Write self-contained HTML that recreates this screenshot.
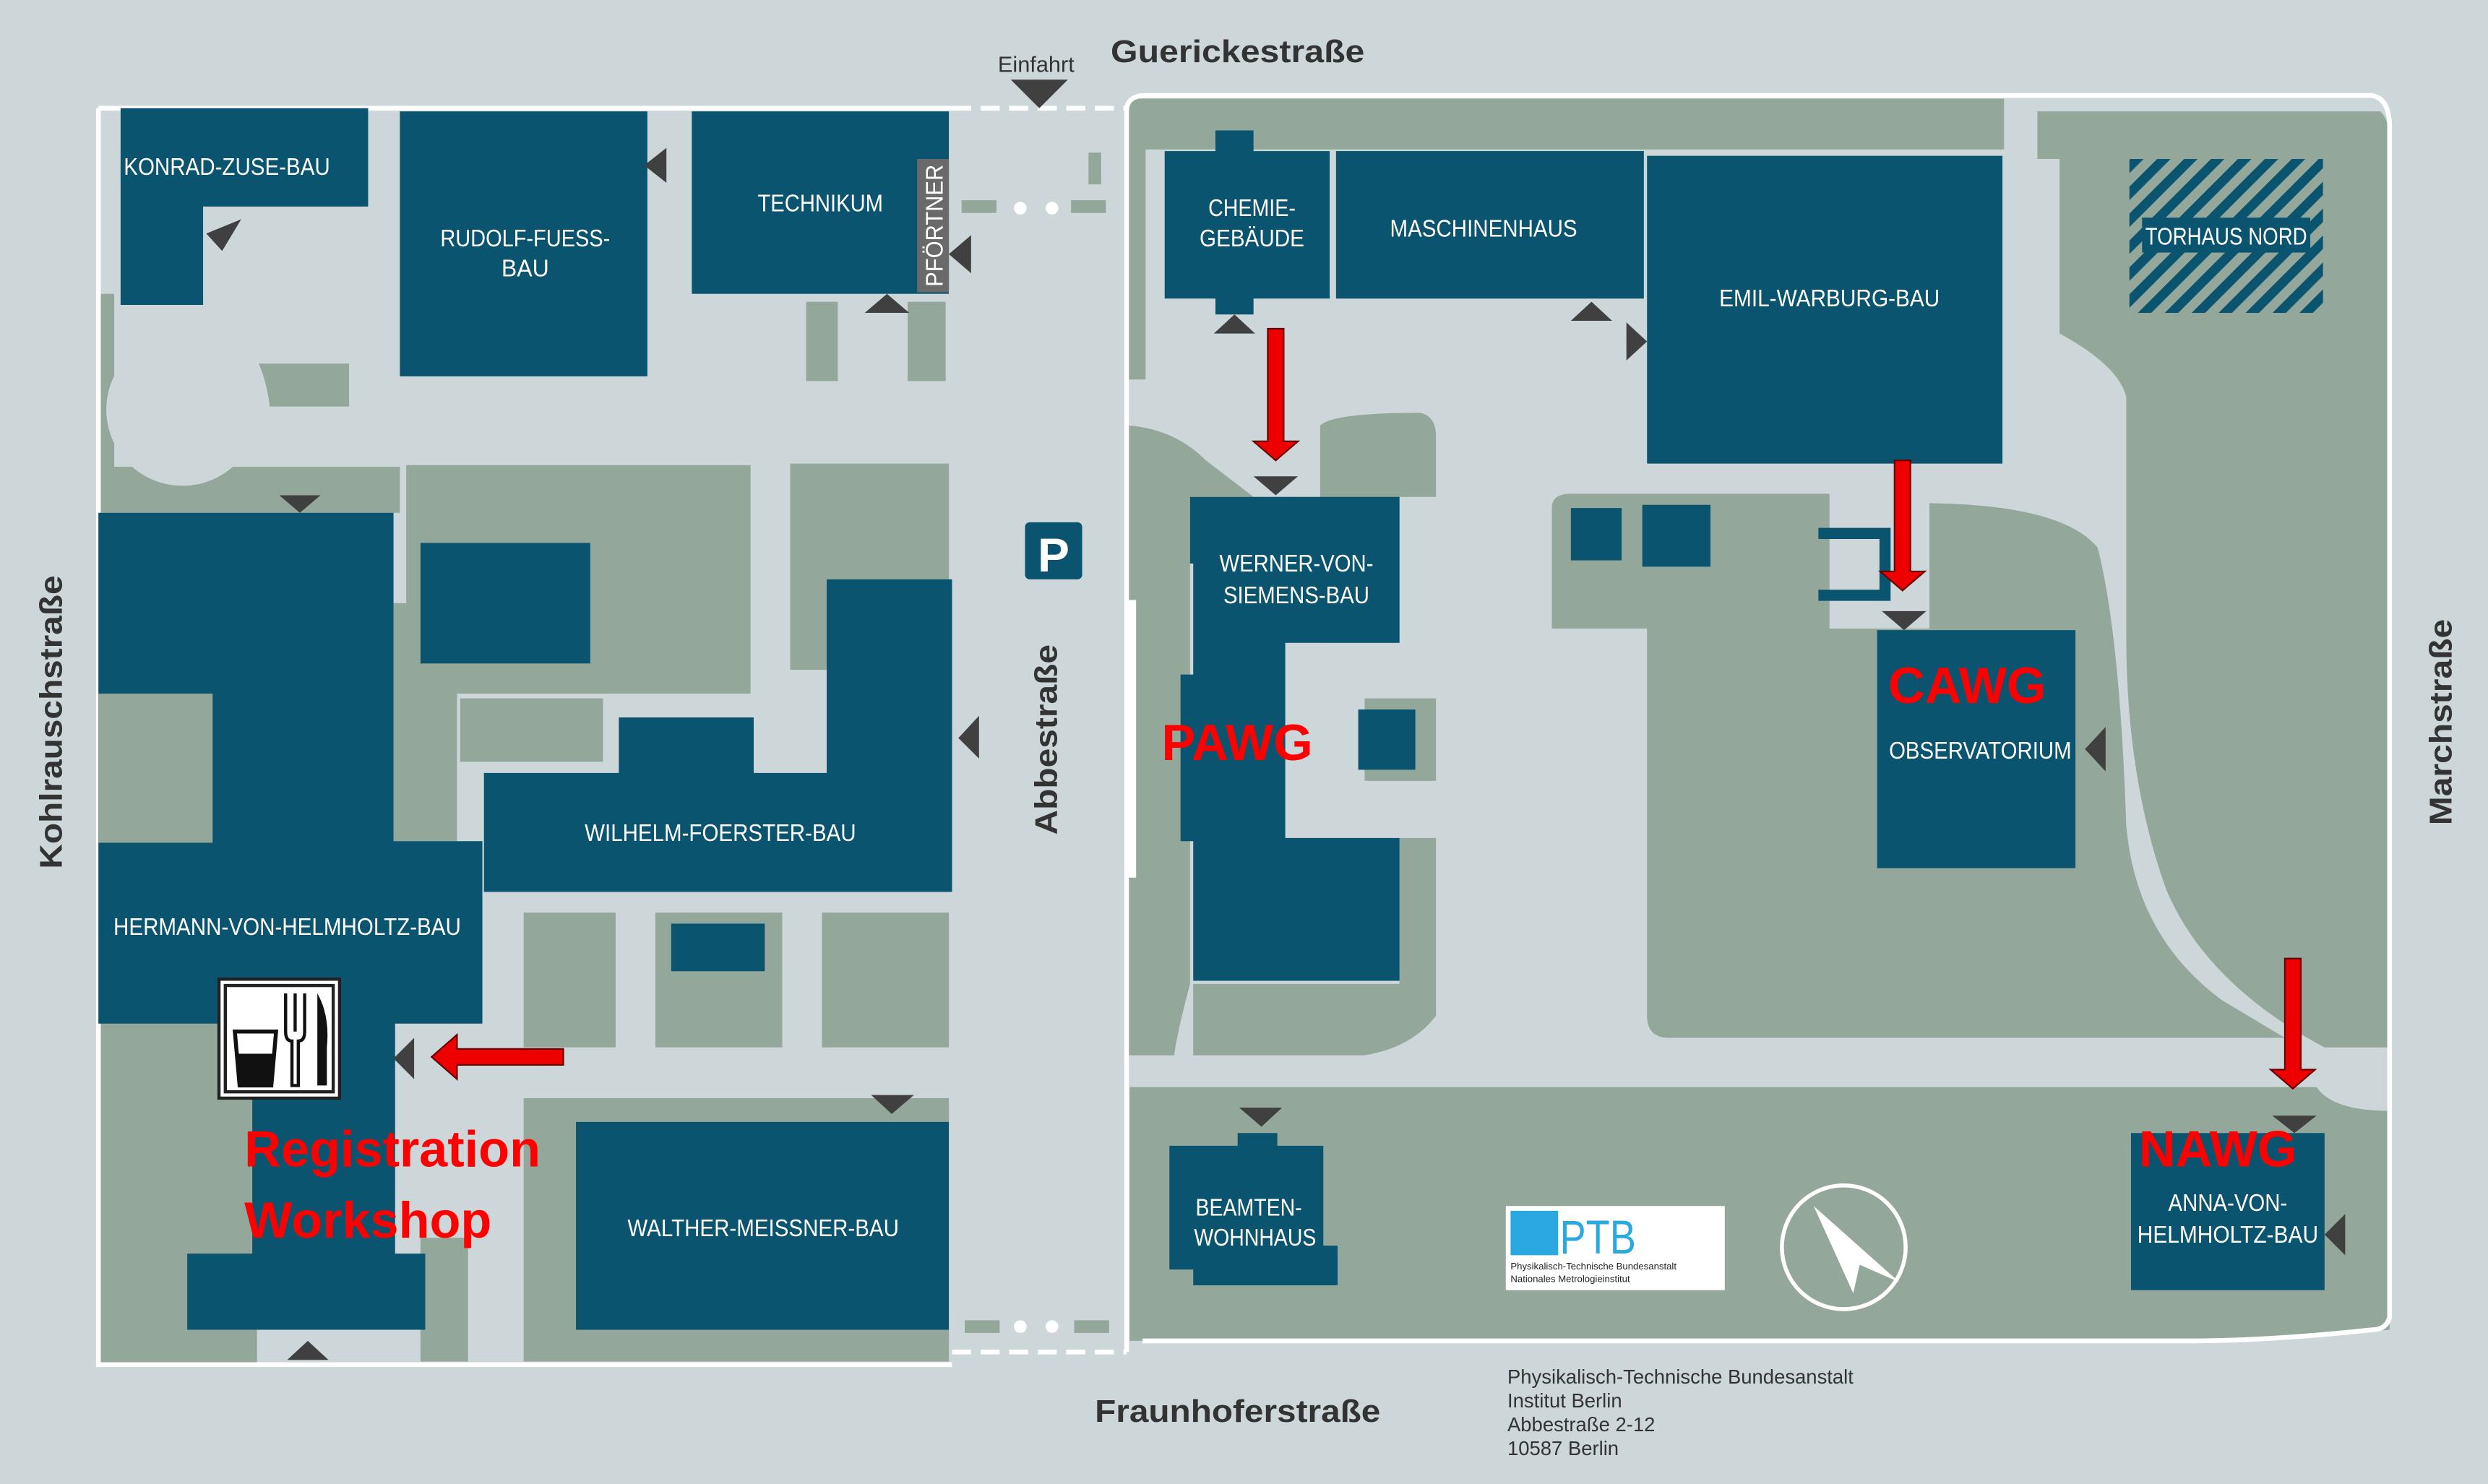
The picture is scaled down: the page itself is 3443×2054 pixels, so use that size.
<!DOCTYPE html>
<html><head><meta charset="utf-8"><style>
html,body{margin:0;padding:0;background:#cdd6d9}
svg{display:block}
.b{fill:#0b5470}.g{fill:#93a89a}.t{fill:#404040}
.l{fill:#fff;font-family:"Liberation Sans",sans-serif;font-size:15px;text-anchor:middle}
.s{fill:#333;font-family:"Liberation Sans",sans-serif;font-weight:bold;font-size:20px;text-anchor:middle}
.r{fill:#f00;font-family:"Liberation Sans",sans-serif;font-weight:bold;font-size:32px}
</style></head><body>
<svg width="3443" height="2054" viewBox="0 0 1568 935" xmlns="http://www.w3.org/2000/svg">
<rect width="1568" height="935" fill="#cdd6d9"/>
<!-- green areas left -->
<path class="g" d="M62,185 H72 V295 H62 Z"/>
<path class="g" d="M62,294 H252 V323 H62 Z"/>
<circle cx="115" cy="258" r="48" fill="#cdd6d9"/>
<path class="g" d="M163,229 H220 V256 H170 Q168,240 163,229 Z"/>
<rect class="g" x="508" y="190" width="20" height="50"/>
<rect class="g" x="572" y="190" width="24" height="50"/>
<rect class="g" x="606" y="126" width="22" height="8"/>
<rect class="g" x="675" y="126" width="22" height="8"/>
<rect class="g" x="686" y="96" width="8" height="20"/>
<rect class="g" x="256" y="293" width="217" height="144"/>
<rect class="g" x="498" y="292" width="100" height="130"/>
<rect class="g" x="290" y="440" width="90" height="40"/>
<rect class="g" x="330" y="575" width="58" height="85"/>
<rect class="g" x="413" y="575" width="80" height="85"/>
<rect class="g" x="518" y="575" width="80" height="85"/>
<rect class="g" x="330" y="692" width="268" height="166"/>
<rect class="g" x="62" y="640" width="100" height="220"/>
<rect class="g" x="248" y="380" width="40" height="150"/>
<rect class="g" x="265" y="780" width="30" height="78"/>
<!-- right greens -->
<path class="g" d="M711,62 H1263 V94 H722 V239 H711 Z"/>
<path class="g" d="M711,268 Q740,270 760,290 L790,313 H750 V620 Q742,650 740,665 L711,665 Z"/>
<path class="g" d="M832,268 Q840,260 895,260 Q905,262 905,275 V313 H882 V405 H832 Z"/>
<rect class="g" x="860" y="440" width="45" height="52"/>
<path class="g" d="M882,528 H905 V640 Q890,660 860,665 H752 V620 H882 Z"/>
<path class="g" d="M1284,70 H1500 Q1506,75 1506,90 V660 H1465 Q1390,620 1365,560 Q1340,490 1340,400 V250 Q1335,230 1298,210 V100 H1284 Z"/>
<path class="g" d="M978,320 Q978,311 990,311 H1153 V396 H1216 V317 Q1300,318 1322,345 Q1336,400 1340,520 Q1346,590 1400,630 L1440,654 H1052 Q1038,654 1038,640 V396 H978 Z"/>
<path class="g" d="M712,685 H1460 Q1470,700 1506,700 V838 Q1430,845 1380,845 H712 Z"/>
<rect class="g" x="1468" y="714" width="38" height="38"/>
<!-- campus outline -->
<path d="M62,68 H600 M62,68 V860 H600" stroke="#fff" stroke-width="3" fill="none"/>
<path d="M600,68 H710 M600,852 H710" stroke="#fff" stroke-width="3" stroke-dasharray="12,6" fill="none"/>
<path d="M710,852 V70 Q710,60 722,60 H1495 Q1506,62 1506,80 V830 Q1504,838 1495,838 Q1430,845 1380,845 H720" stroke="#fff" stroke-width="3" fill="none"/>
<!-- buildings -->
<path class="b" d="M76,68 H232 V130 H128 V192 H76 Z"/>
<rect class="b" x="252" y="70" width="156" height="167"/>
<rect class="b" x="436" y="70" width="162" height="115"/>
<rect x="578" y="100" width="20" height="84" fill="#6a6a6a"/>
<path class="b" d="M734,95 H766 V82 H790 V95 H838 V188 H790 V198 H766 V188 H734 Z"/>
<rect class="b" x="842" y="95" width="194" height="93"/>
<rect class="b" x="1038" y="98" width="224" height="194"/>
<defs><pattern id="h" width="12" height="12" patternUnits="userSpaceOnUse" patternTransform="rotate(45)"><rect width="12" height="12" fill="#93a89a"/><rect width="6" height="12" fill="#0b5470"/></pattern></defs>
<rect x="1342" y="100" width="122" height="97" fill="url(#h)"/>
<rect class="b" x="1350" y="137" width="106" height="22"/>
<path class="b" d="M750,313 H882 V405 H810 V528 H882 V618 H752 V530 L744,530 V425 H752 V355 H750 Z"/>
<rect class="b" x="856" y="447" width="36" height="38"/>
<rect class="b" x="990" y="320" width="32" height="33"/>
<rect class="b" x="1035" y="318" width="43" height="39"/>
<path d="M1146,336 H1188 V375 H1146" stroke="#0b5470" stroke-width="7" fill="none"/>
<rect class="b" x="1183" y="397" width="125" height="150"/>
<rect class="b" x="1343" y="714" width="122" height="99"/>
<path class="b" d="M737,722 H780 V714 H805 V722 H834 V785 H843 V810 H752 V800 H737 Z"/>
<path class="b" d="M62,323 H248 V530 H304 V645 H249 V790 H268 V838 H118 V790 H159 V645 H62 Z"/>
<rect class="g" x="62" y="437" width="72" height="94"/>
<rect class="b" x="265" y="342" width="107" height="76"/>
<path class="b" d="M305,487 H390 V452 H475 V487 H521 V365 H600 V562 H305 Z"/>
<rect class="b" x="423" y="582" width="59" height="30"/>
<rect class="b" x="363" y="707" width="235" height="131"/>
<!-- P -->
<rect class="b" x="646" y="329" width="36" height="36" rx="3"/>
<text x="664" y="360" fill="#fff" font-family="Liberation Sans" font-weight="bold" font-size="30" text-anchor="middle">P</text>
<rect x="711" y="378" width="5" height="175" fill="#fff"/>
<!-- dots -->
<circle cx="643" cy="131" r="4" fill="#fff"/><circle cx="663" cy="131" r="4" fill="#fff"/>
<rect class="g" x="608" y="832" width="22" height="8"/><rect class="g" x="677" y="832" width="22" height="8"/>
<circle cx="643" cy="836" r="4" fill="#fff"/><circle cx="663" cy="836" r="4" fill="#fff"/>
<!-- entrance triangles -->
<g class="t">
<path d="M637,50 H673 L655,68 Z"/>
<path d="M130,147 L152,138 L140,158 Z"/>
<path d="M420,93 V115 L406,104 Z"/>
<path d="M612,148 V172 L598,160 Z"/>
<path d="M545,197 H573 L559,185 Z"/>
<path d="M765,210 H791 L778,198 Z"/>
<path d="M990,202 H1016 L1003,190 Z"/>
<path d="M1025,203 V227 L1038,215 Z"/>
<path d="M790,300 H818 L804,312 Z"/>
<path d="M1186,385 H1214 L1200,397 Z"/>
<path d="M1327,458 V486 L1314,472 Z"/>
<path d="M617,451 V478 L604,465 Z"/>
<path d="M176,312 H202 L189,323 Z"/>
<path d="M261,654 V680 L248,667 Z"/>
<path d="M549,690 H576 L562,702 Z"/>
<path d="M781,698 H808 L795,710 Z"/>
<path d="M1432,703 H1460 L1446,714 Z"/>
<path d="M1478,765 V791 L1465,778 Z"/>
<path d="M181,857 H207 L194,845 Z"/>
</g>
<!-- red arrows -->
<g fill="#e00" stroke="#600" stroke-width="1">
<path d="M799,207 H809 V278 H818 L804,290 L790,278 H799 Z"/>
<path d="M1194,290 H1204 V360 H1213 L1199,372 L1185,360 H1194 Z"/>
<path d="M1440,604 H1450 V674 H1459 L1445,686 L1431,674 H1440 Z"/>
<path d="M355,661 V671 H288 V680 L272,666 L288,652 V661 Z"/>
</g>
<!-- food icon -->
<rect x="138" y="617" width="76" height="75" fill="#fff" stroke="#222" stroke-width="2"/>
<rect x="142" y="621" width="68" height="67" fill="none" stroke="#222" stroke-width="2"/>
<path d="M148,650 H174 L171,684 H151 Z" fill="none" stroke="#111" stroke-width="2.5"/>
<rect x="150" y="664" width="22" height="19" fill="#111"/>
<path d="M180,626 V650 Q180,656 184,656 V684 H188 V656 Q192,656 192,650 V626 M186,626 V650" stroke="#111" stroke-width="2" fill="none"/>
<path d="M200,626 Q208,640 206,660 V684 H200 Z" fill="#111"/>
<!-- PTB logo -->
<rect x="949" y="760" width="138" height="53" fill="#fff"/>
<rect x="952" y="763" width="30" height="28" fill="#2aa8e0"/>
<text x="983" y="790" fill="#2aa8e0" font-family="Liberation Sans" font-size="30" textLength="48" lengthAdjust="spacingAndGlyphs">PTB</text>
<text x="952" y="800" font-family="Liberation Sans" font-size="6" fill="#222">Physikalisch-Technische Bundesanstalt</text>
<text x="952" y="808" font-family="Liberation Sans" font-size="6" fill="#222">Nationales Metrologieinstitut</text>
<!-- compass -->
<circle cx="1162" cy="786" r="39" fill="none" stroke="#fff" stroke-width="2.5"/>
<path d="M1143,760 L1197,808 L1172,797 L1168,815 Z" fill="#fff"/>
<!-- labels -->
<g lengthAdjust="spacingAndGlyphs">
<text class="l" x="143" y="110" textLength="130" lengthAdjust="spacingAndGlyphs">KONRAD-ZUSE-BAU</text>
<text class="l" x="331" y="155" textLength="107" lengthAdjust="spacingAndGlyphs">RUDOLF-FUESS-</text><text class="l" x="331" y="174" textLength="30" lengthAdjust="spacingAndGlyphs">BAU</text>
<text class="l" x="517" y="133" textLength="79" lengthAdjust="spacingAndGlyphs">TECHNIKUM</text>
<text class="l" x="594" y="142" font-size="14" transform="rotate(-90 594 142)" textLength="77" lengthAdjust="spacingAndGlyphs">PFÖRTNER</text>
<text class="l" x="789" y="136" textLength="55" lengthAdjust="spacingAndGlyphs">CHEMIE-</text><text class="l" x="789" y="155" textLength="66" lengthAdjust="spacingAndGlyphs">GEBÄUDE</text>
<text class="l" x="935" y="149" textLength="118" lengthAdjust="spacingAndGlyphs">MASCHINENHAUS</text>
<text class="l" x="1153" y="193" textLength="139" lengthAdjust="spacingAndGlyphs">EMIL-WARBURG-BAU</text>
<text class="l" x="1403" y="154" textLength="102" lengthAdjust="spacingAndGlyphs">TORHAUS NORD</text>
<text class="l" x="817" y="360" textLength="97" lengthAdjust="spacingAndGlyphs">WERNER-VON-</text><text class="l" x="817" y="380" textLength="92" lengthAdjust="spacingAndGlyphs">SIEMENS-BAU</text>
<text class="l" x="1248" y="478" textLength="115" lengthAdjust="spacingAndGlyphs">OBSERVATORIUM</text>
<text class="l" x="454" y="530" textLength="171" lengthAdjust="spacingAndGlyphs">WILHELM-FOERSTER-BAU</text>
<text class="l" x="181" y="589" textLength="219" lengthAdjust="spacingAndGlyphs">HERMANN-VON-HELMHOLTZ-BAU</text>
<text class="l" x="481" y="779" textLength="171" lengthAdjust="spacingAndGlyphs">WALTHER-MEISSNER-BAU</text>
<text class="l" x="787" y="766" textLength="67" lengthAdjust="spacingAndGlyphs">BEAMTEN-</text><text class="l" x="791" y="785" textLength="77" lengthAdjust="spacingAndGlyphs">WOHNHAUS</text>
<text class="l" x="1404" y="763" textLength="75" lengthAdjust="spacingAndGlyphs">ANNA-VON-</text><text class="l" x="1404" y="783" textLength="114" lengthAdjust="spacingAndGlyphs">HELMHOLTZ-BAU</text>
</g>
<text class="s" x="780" y="39" textLength="160" lengthAdjust="spacingAndGlyphs">Guerickestraße</text>
<text class="s" x="780" y="896" textLength="180" lengthAdjust="spacingAndGlyphs">Fraunhoferstraße</text>
<text x="653" y="45" font-family="Liberation Sans" font-size="14" fill="#333" text-anchor="middle">Einfahrt</text>
<text class="s" x="666" y="466" transform="rotate(-90 666 466)" textLength="120" lengthAdjust="spacingAndGlyphs">Abbestraße</text>
<text class="s" x="39" y="455" transform="rotate(-90 39 455)" textLength="185" lengthAdjust="spacingAndGlyphs">Kohlrauschstraße</text>
<text class="s" x="1545" y="455" transform="rotate(-90 1545 455)" textLength="130" lengthAdjust="spacingAndGlyphs">Marchstraße</text>
<g font-family="Liberation Sans" font-size="12.5" fill="#333">
<text x="950" y="872">Physikalisch-Technische Bundesanstalt</text>
<text x="950" y="887">Institut Berlin</text>
<text x="950" y="902">Abbestraße 2-12</text>
<text x="950" y="917">10587 Berlin</text>
</g>
<text class="r" x="732" y="479">PAWG</text>
<text class="r" x="1190" y="443">CAWG</text>
<text class="r" x="1348" y="735">NAWG</text>
<text class="r" x="154" y="735">Registration</text>
<text class="r" x="154" y="780">Workshop</text>
</svg>
</body></html>
